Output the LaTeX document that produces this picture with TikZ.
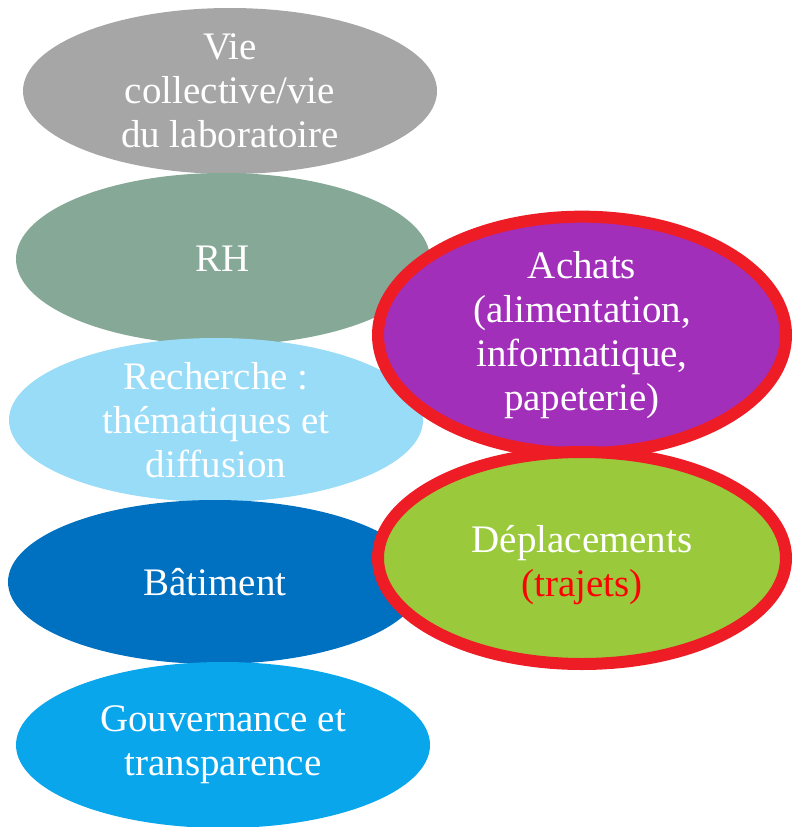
\documentclass[tikz,border=0pt]{standalone}
\usepackage{fontspec}
\setmainfont{Liberation Serif}
\usetikzlibrary{shapes.geometric}
\definecolor{cgrey}{HTML}{A6A6A6}
\definecolor{crh}{HTML}{86A897}
\definecolor{crech}{HTML}{99DCF8}
\definecolor{cbat}{HTML}{0070C0}
\definecolor{cgouv}{HTML}{0AA6EC}
\definecolor{cachat}{HTML}{A22FB9}
\definecolor{cdepl}{HTML}{9ACA3C}
\definecolor{cborder}{HTML}{EE1C25}
\definecolor{ctxtred}{HTML}{FF0000}
\tikzset{
  bubble/.style={ellipse, draw=none, inner sep=0pt, align=center, text=white,
    minimum width=414pt, minimum height=166pt,
    font=\fontsize{39}{44}\selectfont},
  hot/.style={bubble, draw=cborder, line width=12pt,
    minimum width=408pt, minimum height=212pt},
  label text/.style={inner sep=0pt, align=center, text=white,
    font=\fontsize{39}{44}\selectfont}
}
\begin{document}
\begin{tikzpicture}[x=1pt,y=-1pt]
\useasboundingbox (0,0) rectangle (792,827);
\node[bubble, fill=cgrey] (vie) at (230,91) {Vie\\collective/vie\\du laboratoire};
\node[bubble, fill=crh, minimum height=172pt] (rh) at (223,259) {RH};
\node[bubble, fill=crech, minimum height=164pt] (rech) at (216,420) {Recherche :\\thématiques et\\diffusion};
\node[bubble, fill=cbat, minimum height=164pt] (bat) at (215,582) {Bâtiment};
\node[bubble, fill=cgouv] (gouv) at (223,745) {Gouvernance et\\transparence};
\node[hot, fill=cachat] (achats) at (582,335) {Achats\\(alimentation,\\informatique,\\papeterie)};
\node[hot, fill=cdepl] (depl) at (582,558) {};
\node[label text] (deplt) at (582,565) {Déplacements\\\textcolor{ctxtred}{(trajets)}};
\end{tikzpicture}
\end{document}
